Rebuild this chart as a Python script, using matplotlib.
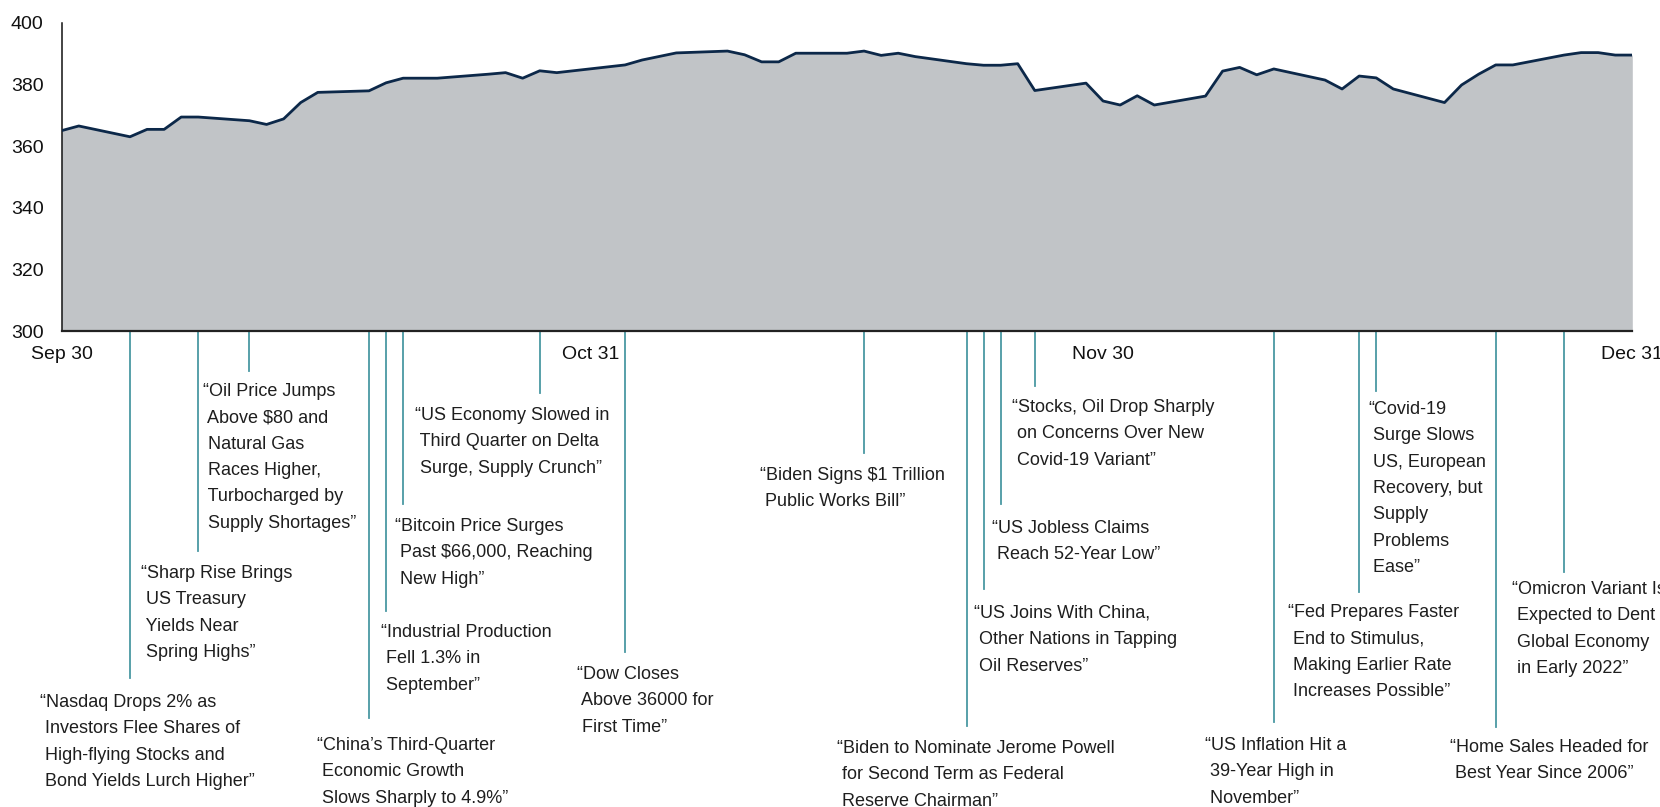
import matplotlib
matplotlib.use("Agg")
import matplotlib.pyplot as plt
import matplotlib.dates as mdates
import matplotlib.transforms as mtransforms
import pandas as pd

plt.rcParams["text.parse_math"] = False

# === Data ===
dates = [
    "2021-09-30", "2021-10-01", "2021-10-04", "2021-10-05", "2021-10-06", "2021-10-07",
    "2021-10-08", "2021-10-11", "2021-10-12", "2021-10-13", "2021-10-14", "2021-10-15",
    "2021-10-18", "2021-10-19", "2021-10-20", "2021-10-21", "2021-10-22", "2021-10-25",
    "2021-10-26", "2021-10-27", "2021-10-28", "2021-10-29", "2021-11-02", "2021-11-03",
    "2021-11-05", "2021-11-08", "2021-11-09", "2021-11-10", "2021-11-11", "2021-11-12",
    "2021-11-15", "2021-11-16", "2021-11-17", "2021-11-18", "2021-11-19", "2021-11-22",
    "2021-11-23", "2021-11-24", "2021-11-25", "2021-11-26", "2021-11-29", "2021-11-30",
    "2021-12-01", "2021-12-02", "2021-12-03", "2021-12-06", "2021-12-07", "2021-12-08",
    "2021-12-09", "2021-12-10", "2021-12-13", "2021-12-14", "2021-12-15", "2021-12-16",
    "2021-12-17", "2021-12-20", "2021-12-21", "2021-12-22", "2021-12-23", "2021-12-24",
    "2021-12-27", "2021-12-28", "2021-12-29", "2021-12-30", "2021-12-31",
]
values = [
    365.0, 366.5, 363.0, 365.4, 365.4, 369.4,
    369.4, 368.2, 367.0, 368.8, 374.1, 377.4,
    377.9, 380.5, 382.0, 382.0, 382.0, 383.3,
    383.8, 382.0, 384.4, 383.8, 386.3, 387.9,
    390.2, 390.8, 389.6, 387.3, 387.3, 390.1,
    390.1, 390.8, 389.4, 390.1, 389.0, 386.7,
    386.2, 386.2, 386.7, 378.0, 380.4, 374.6,
    373.3, 376.3, 373.3, 376.2, 384.3, 385.5,
    383.1, 385.0, 381.4, 378.5, 382.7, 382.1,
    378.5, 374.1, 379.8, 383.3, 386.3, 386.3,
    389.5, 390.3, 390.3, 389.5, 389.5,
]

tick_dates = ["2021-09-30", "2021-10-31", "2021-11-30", "2021-12-31"]
tick_labels = ["Sep 30", "Oct 31", "Nov 30", "Dec 31"]

event_dates = [
    "2021-10-04", "2021-10-08", "2021-10-11", "2021-10-18", "2021-10-19", "2021-10-20",
    "2021-10-28", "2021-11-02", "2021-11-16", "2021-11-22", "2021-11-23", "2021-11-24",
    "2021-11-26", "2021-12-10", "2021-12-15", "2021-12-16", "2021-12-23", "2021-12-27",
]
event_texts = [
    "\u201cNasdaq Drops 2% as\n Investors Flee Shares of\n High-flying Stocks and\n Bond Yields Lurch Higher\u201d",
    "\u201cSharp Rise Brings\n US Treasury\n Yields Near\n Spring Highs\u201d",
    "\u201cOil Price Jumps\n Above $80 and\n Natural Gas\n Races Higher,\n Turbocharged by\n Supply Shortages\u201d",
    "\u201cChina\u2019s Third-Quarter\n Economic Growth\n Slows Sharply to 4.9%\u201d",
    "\u201cIndustrial Production\n Fell 1.3% in\n September\u201d",
    "\u201cBitcoin Price Surges\n Past $66,000, Reaching\n New High\u201d",
    "\u201cUS Economy Slowed in\n Third Quarter on Delta\n Surge, Supply Crunch\u201d",
    "\u201cDow Closes\n Above 36000 for\n First Time\u201d",
    "\u201cBiden Signs $1 Trillion\n Public Works Bill\u201d",
    "\u201cBiden to Nominate Jerome Powell\n for Second Term as Federal\n Reserve Chairman\u201d",
    "\u201cUS Joins With China,\n Other Nations in Tapping\n Oil Reserves\u201d",
    "\u201cUS Jobless Claims\n Reach 52-Year Low\u201d",
    "\u201cStocks, Oil Drop Sharply\n on Concerns Over New\n Covid-19 Variant\u201d",
    "\u201cUS Inflation Hit a\n 39-Year High in\n November\u201d",
    "\u201cFed Prepares Faster\n End to Stimulus,\n Making Earlier Rate\n Increases Possible\u201d",
    "\u201cCovid-19\n Surge Slows\n US, European\n Recovery, but\n Supply\n Problems\n Ease\u201d",
    "\u201cHome Sales Headed for\n Best Year Since 2006\u201d",
    "\u201cOmicron Variant Is\n Expected to Dent\n Global Economy\n in Early 2022\u201d",
]

# layout of the callouts (pixels)
line_end_px = [678, 551, 371, 718, 611, 504, 393, 652, 453, 726, 589, 504, 386, 722, 592, 391, 727, 572]
text_dx_px = [-90, -57, -46, -52, -5, -8, -125, -48, -104, -130, -10, -9, -23, -69, -71, -8, -46, -52]
text_gap_px = [24, 22, 20, 27, 21, 22, 22, 22, 22, 22, 24, 24, 21, 23, 20, 18, 20, 17]

# === Figure ===
W, H = 1660, 807
fig = plt.figure(figsize=(W / 100, H / 100), dpi=100)
ax_left, ax_right, ax_top, ax_bottom = 61.7, 1632.3, 22.7, 331.0
ax = fig.add_axes([ax_left / W, 1 - ax_bottom / H, (ax_right - ax_left) / W, (ax_bottom - ax_top) / H])

x = pd.to_datetime(dates)
ax.fill_between(x, values, 300, color="#C1C4C7", lw=0, zorder=1)
ax.plot(x, values, color="#0C2849", lw=2.0, zorder=3)

for side in ["top", "right"]:
    ax.spines[side].set_visible(False)
ax.spines["left"].set_color("#111111")
ax.spines["left"].set_linewidth(1.1)
ax.spines["bottom"].set_color("#222222")
ax.spines["bottom"].set_linewidth(1.6)
ax.spines["bottom"].set_zorder(4)

ax.set_yticks(range(300, 401, 20))
ax.set_xticks(pd.to_datetime(tick_dates))
ax.set_xticklabels(tick_labels)
ax.tick_params(axis="both", length=0, labelsize=14, colors="#111111")
ax.tick_params(axis="y", pad=13)
ax.tick_params(axis="x", pad=11)
for lab in ax.get_xticklabels() + ax.get_yticklabels():
    lab.set_family("Liberation Sans")

# === Callouts ===
trans = mtransforms.blended_transform_factory(ax.transData, fig.transFigure)
for d, txt, end, dx, gap in zip(event_dates, event_texts, line_end_px, text_dx_px, text_gap_px):
    xd = mdates.date2num(pd.Timestamp(d))
    ax.plot([xd, xd], [1 - ax_bottom / H, 1 - end / H], transform=trans,
            color="#4A98A3", lw=1.3, clip_on=False, zorder=2)
    tt = mtransforms.offset_copy(trans, fig=fig, x=dx, y=0, units="dots")
    ax.text(xd, 1 - (end + gap - 8) / H, txt, transform=tt, ha="left", va="top",
            fontsize=13, linespacing=1.72, color="#1E1E1E",
            family="Liberation Sans", clip_on=False)

ax.set_xlim(pd.Timestamp("2021-09-30"), pd.Timestamp("2021-12-31"))
ax.set_ylim(300, 400)

fig.savefig("out.png", dpi=100)
